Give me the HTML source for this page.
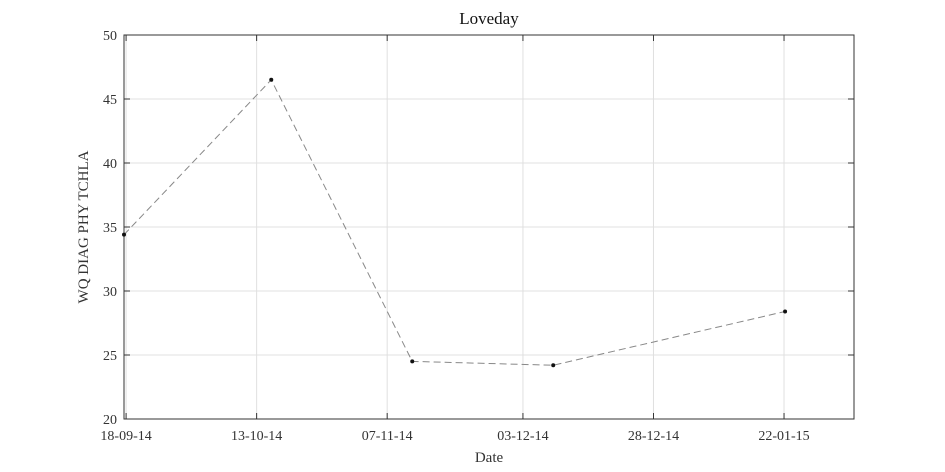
<!DOCTYPE html>
<html><head><meta charset="utf-8"><style>
body{margin:0;background:#fff;}
svg{display:block;font-family:"Liberation Serif",serif;}
</style></head><body>
<svg id="chart" width="945" height="472"></svg>
<script>
const categories=["18-09-14","16-10-14","12-11-14","08-12-14","22-01-15"];
const dayOffsets=[-0.4,27.8,54.8,81.8,126.2];
const values=[34.4,46.5,24.5,24.2,28.4];
const xTickLabels=["18-09-14","13-10-14","07-11-14","03-12-14","28-12-14","22-01-15"];
const xTickDays=[0,25,50,76,101,126];
const yTicks=[20,25,30,35,40,45,50];

const NS="http://www.w3.org/2000/svg";
const svg=document.getElementById('chart');
const L=124,R=854,T=35,B=419;
const xMin=-0.4,xMax=139.4,yMin=20,yMax=50;
const xs=d=>L+(d-xMin)/(xMax-xMin)*(R-L);
const ys=v=>B-(v-yMin)/(yMax-yMin)*(B-T);
function mk(tag,attrs,parent){const e=document.createElementNS(NS,tag);for(const k in attrs)e.setAttribute(k,attrs[k]);(parent||svg).appendChild(e);return e;}

const grid=mk('g',{});


xTickDays.forEach((d,i)=>{
  const x=xs(d);
  mk('line',{x1:x,x2:x,y1:T,y2:B,stroke:'#e0e0e0','stroke-width':1},grid);
  mk('line',{x1:x,x2:x,y1:B,y2:B-6,stroke:'#333'},grid);
  mk('line',{x1:x,x2:x,y1:T,y2:T+6,stroke:'#333'},grid);
  const t=mk('text',{x:x,y:B+21,'text-anchor':'middle','font-size':14,fill:'#333'});
  t.textContent=xTickLabels[i];
  
  
});
yTicks.forEach(v=>{
  const y=ys(v);
  mk('line',{x1:L,x2:R,y1:y,y2:y,stroke:'#e0e0e0'},grid);
  mk('line',{x1:L,x2:L+6,y1:y,y2:y,stroke:'#333'},grid);
  mk('line',{x1:R,x2:R-6,y1:y,y2:y,stroke:'#333'},grid);
  const t=mk('text',{x:L-7,y:y+5,'text-anchor':'end','font-size':14,fill:'#333'});
  t.textContent=v;
  
  
});
const frame=mk('rect',{x:L,y:T,width:R-L,height:B-T,fill:'none',stroke:'#333'});



const pts=dayOffsets.map((d,i)=>xs(d)+','+ys(values[i])).join(' ');
const line=mk('polyline',{points:pts,fill:'none',stroke:'#888','stroke-dasharray':'7,4','stroke-width':1});


dayOffsets.forEach((d,i)=>{
  const c=mk('circle',{cx:xs(d),cy:ys(values[i]),r:2,fill:'#111'});
  
  
});

const title=mk('text',{x:(L+R)/2,y:24,'text-anchor':'middle','font-size':17,fill:'#111'});
title.textContent='Loveday';


const xt=mk('text',{x:(L+R)/2,y:462,'text-anchor':'middle','font-size':15,fill:'#333'});
xt.textContent='Date';


const yt=mk('text',{x:0,y:0,'text-anchor':'middle','font-size':15,fill:'#333',transform:`translate(88,${(T+B)/2}) rotate(-90)`});
yt.textContent='WQ DIAG PHY TCHLA';


</script>
</body></html>
